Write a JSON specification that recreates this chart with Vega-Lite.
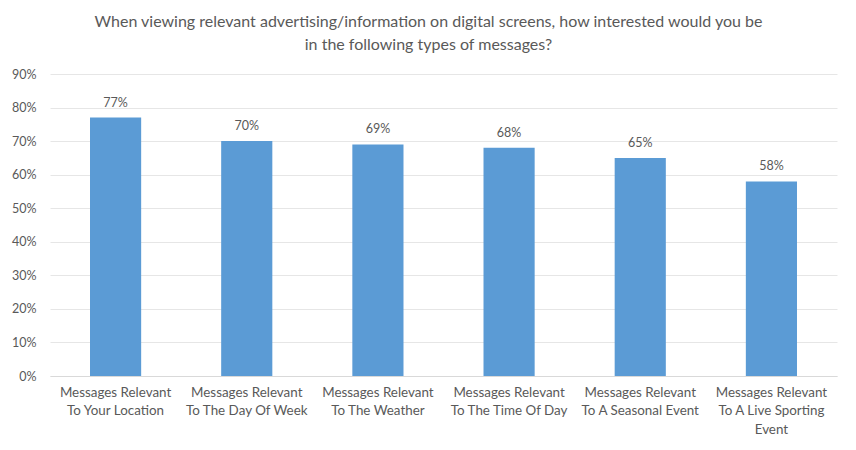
{
  "$schema": "https://vega.github.io/schema/vega-lite/v6.json",
  "autosize": "none",
  "width": 787,
  "height": 302,
  "padding": {"left": 50, "top": 74, "right": 19, "bottom": 74},
  "background": "white",
  "title": {
    "text": [
      "When viewing relevant advertising/information on digital screens, how interested would you be",
      "in the following types of messages?"
    ],
    "anchor": "middle",
    "dx": -15,
    "offset": 15,
    "font": "Lato",
    "fontSize": 16,
    "fontWeight": "normal",
    "color": "#595959",
    "lineHeight": 23
  },
  "data": {
    "values": [
      {"message": "Messages Relevant|To Your Location", "share": 0.77},
      {"message": "Messages Relevant|To The Day Of Week", "share": 0.70},
      {"message": "Messages Relevant|To The Weather", "share": 0.69},
      {"message": "Messages Relevant|To The Time Of Day", "share": 0.68},
      {"message": "Messages Relevant|To A Seasonal Event", "share": 0.65},
      {"message": "Messages Relevant|To A Live Sporting|Event", "share": 0.58}
    ]
  },
  "encoding": {
    "x": {
      "field": "message",
      "type": "nominal",
      "sort": null,
      "scale": {"paddingInner": 0.61, "paddingOuter": 0.305},
      "axis": {
        "title": null,
        "labelAngle": 0,
        "labelExpr": "split(datum.value, '|')",
        "labelLineHeight": 18.5,
        "labelPadding": 9,
        "labelBaseline": "top",
        "ticks": false,
        "domainColor": "#d9d9d9",
        "labelFontSize": 13.4
      }
    },
    "y": {
      "field": "share",
      "type": "quantitative",
      "scale": {"domain": [0, 0.9]},
      "axis": {
        "title": null,
        "format": ".0%",
        "values": [0, 0.1, 0.2, 0.3, 0.4, 0.5, 0.6, 0.7, 0.8, 0.9],
        "domain": false,
        "ticks": false,
        "labelPadding": 14,
        "gridColor": "#e6e6e6",
        "labelFontSize": 12.5
      }
    }
  },
  "layer": [
    {"mark": {"type": "bar", "color": "#5b9bd5"}},
    {
      "mark": {"type": "text", "baseline": "bottom", "dy": -8, "font": "Lato", "fontSize": 12.5, "color": "#595959"},
      "encoding": {"text": {"field": "share", "type": "quantitative", "format": ".0%"}}
    }
  ],
  "config": {
    "view": {"stroke": null},
    "axis": {
      "labelFont": "Lato",
      "labelColor": "#595959",
      "grid": true
    },
    "axisX": {"grid": false}
  }
}
